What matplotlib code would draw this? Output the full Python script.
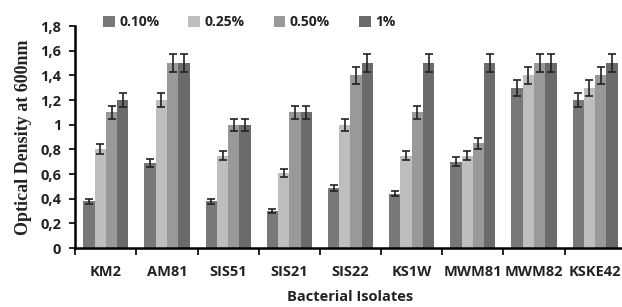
import numpy as np
import matplotlib.pyplot as plt

isolates = ['KM2', 'AM81', 'SIS51', 'SIS21', 'SIS22', 'KS1W', 'MWM81', 'MWM82', 'KSKE42']
concentrations = ['0.10%', '0.25%', '0.50%', '1%']

od_010 = [0.38, 0.69, 0.38, 0.30, 0.49, 0.44, 0.70, 1.30, 1.20]
od_025 = [0.80, 1.20, 0.75, 0.61, 1.00, 0.75, 0.75, 1.40, 1.30]
od_050 = [1.10, 1.50, 1.00, 1.10, 1.40, 1.10, 0.85, 1.50, 1.40]
od_100 = [1.20, 1.50, 1.00, 1.10, 1.50, 1.50, 1.50, 1.50, 1.50]

err_010 = [0.02, 0.035, 0.02, 0.015, 0.025, 0.02, 0.035, 0.065, 0.06]
err_025 = [0.04, 0.06, 0.035, 0.03, 0.05, 0.035, 0.035, 0.07, 0.065]
err_050 = [0.055, 0.075, 0.05, 0.055, 0.07, 0.055, 0.045, 0.075, 0.07]
err_100 = [0.06, 0.075, 0.05, 0.055, 0.075, 0.075, 0.075, 0.075, 0.075]

y_ticks = [0, 0.2, 0.4, 0.6, 0.8, 1.0, 1.2, 1.4, 1.6, 1.8]
y_tick_labels = ['0', '0,2', '0,4', '0,6', '0,8', '1', '1,2', '1,4', '1,6', '1,8']

series = [od_010, od_025, od_050, od_100]
errors = [err_010, err_025, err_050, err_100]
colors = ['#78787a', '#bebec0', '#99999b', '#6b6b6d']

sans = 'Open Sans'

fig = plt.figure(figsize=(6.22, 3.07), dpi=100)
ax = fig.add_axes([0.121, 0.192, 0.885, 0.723])

x = np.arange(len(isolates))
w = 0.185
for i in range(4):
    ax.bar(x + (i - 1.5) * w, series[i], w, color=colors[i], label=concentrations[i],
           yerr=errors[i], capsize=3,
           error_kw={'elinewidth': 1.2, 'capthick': 1.2, 'ecolor': '#222222'})

ax.set_xlim(-0.5, len(isolates) - 0.5)
ax.set_ylim(0, 1.8)
ax.set_yticks(y_ticks)
ax.set_yticklabels(y_tick_labels, fontsize=10.5, fontweight='bold', family=sans, color='#222222')

ax.set_xticks(x)
ax.set_xticklabels(isolates, fontsize=10.5, fontweight='bold', family=sans, color='#222222')
ax.set_xticks(np.arange(len(isolates) + 1) - 0.5, minor=True)
ax.tick_params(axis='x', which='major', length=0, pad=12)
ax.tick_params(axis='x', which='minor', length=5, width=1.2)
ax.tick_params(axis='y', length=4, width=1.2, pad=6)

ax.spines['top'].set_visible(False)
ax.spines['right'].set_visible(False)
ax.spines['left'].set_linewidth(1.8)
ax.spines['bottom'].set_linewidth(1.8)

ax.set_ylabel('Optical Density at 600nm', fontsize=13, fontweight='bold',
              family='Liberation Serif', color='#222222', labelpad=6)
ax.set_xlabel('Bacterial Isolates', fontsize=10.5, fontweight='bold',
              family=sans, color='#222222', labelpad=8)

leg = ax.legend(loc='upper left', bbox_to_anchor=(0.028, 1.105), ncol=4, frameon=False,
                handlelength=0.85, handleheight=0.85, handletextpad=0.3, columnspacing=2.1,
                prop={'family': sans, 'weight': 'bold', 'size': 10})
for t in leg.get_texts():
    t.set_color('#222222')

fig.savefig('out.png', dpi=100)
